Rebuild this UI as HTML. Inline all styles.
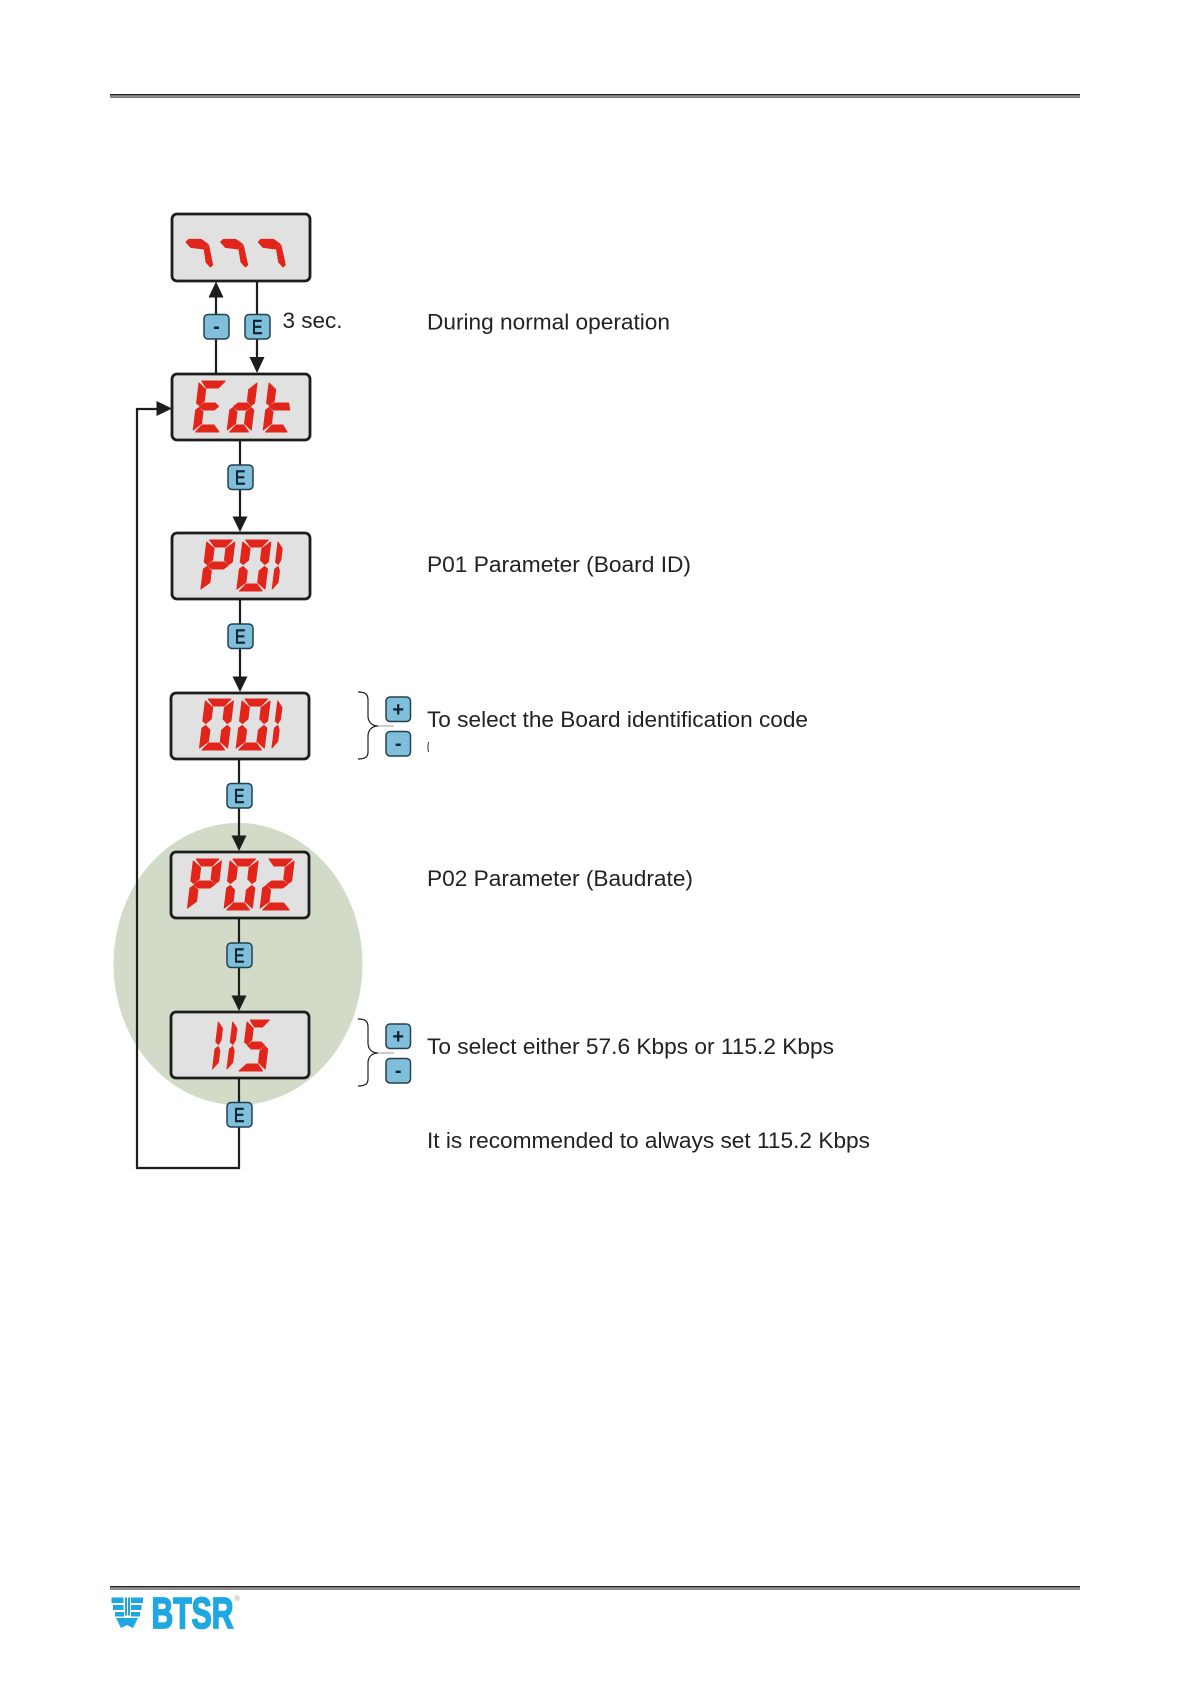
<!DOCTYPE html>
<html><head><meta charset="utf-8"><style>html,body{margin:0;padding:0;background:#fff}svg{display:block}text{font-family:"Liberation Sans",sans-serif}</style></head><body>
<svg xmlns="http://www.w3.org/2000/svg" width="1190" height="1684" viewBox="0 0 1190 1684">
<rect x="110" y="94" width="970" height="1.6" fill="#222"/><rect x="110" y="96.4" width="970" height="1.3" fill="#444"/>
<rect x="110" y="1586" width="970" height="1.6" fill="#222"/><rect x="110" y="1588.4" width="970" height="1.2" fill="#444"/>
<ellipse cx="238" cy="964" rx="124.5" ry="141" fill="#d1dbc8"/>
<g fill="none" stroke="#1d1d1b" stroke-width="2.2">
<path d="M216 373V297M257 281V360M240 440V520M240 599V680M239 759V840M239 918V1000"/>
<path d="M239 1078V1168H137V409H160"/>
</g>
<g fill="#1d1d1b">
<polygon points="216,281.5 208.5,297.5 223.5,297.5"/><polygon points="257,373 249.5,357 264.5,357"/><polygon points="172,408.5 156.5,401 156.5,416"/>
<polygon points="240,532 232.5,516.5 247.5,516.5"/><polygon points="240,692 232.5,676.5 247.5,676.5"/><polygon points="239,851 231.5,835.5 246.5,835.5"/><polygon points="239,1011 231.5,995.5 246.5,995.5"/>
</g>
<g fill="#e1e1e1" stroke="#1d1d1b" stroke-width="2.8">
<rect x="172" y="214" width="138" height="67" rx="5"/><rect x="172" y="374" width="138" height="66" rx="5"/><rect x="172" y="533" width="138" height="66" rx="5"/>
<rect x="171" y="693" width="138" height="66" rx="5"/><rect x="171" y="852" width="138" height="66" rx="5"/><rect x="171" y="1012" width="138" height="66" rx="5"/>
</g>
<g fill="#e1251b" stroke="#e1251b" stroke-width="1" stroke-linejoin="round">
<g transform="translate(100,190) scale(.3333)" stroke-width="3"><title>777</title>
<polygon points="258,156 266,148 303,148 324,163 311,177 272,172"/><polygon points="313,179 326,166 338,225 331,231 318,216"/>
<polygon points="362,156 370,148 407,148 428,163 415,177 376,172"/><polygon points="417,179 430,166 443,225 436,231 423,216"/>
<polygon points="475,156 483,148 520,148 541,163 528,177 489,172"/><polygon points="530,179 543,166 556,225 549,231 536,216"/></g>
<g><title>Edt</title>
<g transform="translate(193,432) skewX(-7) translate(0,-51)"><polygon points="2.5,0 26,0 20,7 8,7"/><polygon points="0,2 7.5,8.5 7.5,20 3,24.5 0,22"/><polygon points="3.5,25.5 7.5,22 18.5,22 22.5,25.5 18.5,29 7.5,29"/><polygon points="0,29 3,26.5 7.5,31 7.5,42.5 0,49"/><polygon points="2.5,51 8,44 20,44 26,51"/></g>
<g transform="translate(227,432) skewX(-7) translate(0,-51)"><polygon points="24,2 24,22 21,24.5 16.5,20 16.5,8.5"/><polygon points="3.5,25.5 7.5,22 16.5,22 20.5,25.5 16.5,29 7.5,29"/><polygon points="0,29 3,26.5 7.5,31 7.5,42.5 0,49"/><polygon points="24,29 24,49 16.5,42.5 16.5,31 21,26.5"/><polygon points="2.5,51 8,44 16,44 21.5,51"/></g>
<g transform="translate(263,432) skewX(-7) translate(0,-51)"><polygon points="0,2 7.5,8.5 7.5,20 3,24.5 0,22"/><polygon points="3.5,25.5 7.5,22 22,22 24,29 7.5,29"/><polygon points="0,29 3,26.5 7.5,31 7.5,42.5 0,49"/><polygon points="2.5,51 8,44 19,44 24,51"/></g></g>
<g><title>P01</title>
<g transform="translate(200.7,591) skewX(-7) scale(1.08,1) translate(0,-51)"><polygon points="2.5,0 23.5,0 18,7 8,7"/><polygon points="0,2 7.5,8.5 7.5,20 3,24.5 0,22"/><polygon points="26,2 26,22 23,24.5 18.5,20 18.5,8.5"/><polygon points="3.5,25.5 7.5,22 18.5,22 22.5,25.5 18.5,29 7.5,29"/><polygon points="0,29 3,26.5 7.5,31 7.5,42.5 0,49"/></g>
<g transform="translate(236.7,591) skewX(-7) scale(1.08,1) translate(0,-51)"><polygon points="2.5,0 23.5,0 18,7 8,7"/><polygon points="0,2 7.5,8.5 7.5,20 3,24.5 0,22"/><polygon points="26,2 26,22 23,24.5 18.5,20 18.5,8.5"/><polygon points="0,29 3,26.5 7.5,31 7.5,42.5 0,49"/><polygon points="26,29 26,49 18.5,42.5 18.5,31 23,26.5"/><polygon points="2.5,51 8,44 18,44 23.5,51"/></g>
<g transform="translate(272,591) skewX(-7) translate(0,-51)"><polygon points="0,2 5,8.5 5,20 3,24.5 0,22"/><polygon points="0,29 3,26.5 5,31 5,42.5 0,49"/></g></g>
<g><title>001</title>
<g transform="translate(199.3,750) skewX(-7) scale(1.08,1) translate(0,-51)"><polygon points="2.5,0 23.5,0 18,7 8,7"/><polygon points="0,2 7.5,8.5 7.5,20 3,24.5 0,22"/><polygon points="26,2 26,22 23,24.5 18.5,20 18.5,8.5"/><polygon points="0,29 3,26.5 7.5,31 7.5,42.5 0,49"/><polygon points="26,29 26,49 18.5,42.5 18.5,31 23,26.5"/><polygon points="2.5,51 8,44 18,44 23.5,51"/></g>
<g transform="translate(236,750) skewX(-7) scale(1.08,1) translate(0,-51)"><polygon points="2.5,0 23.5,0 18,7 8,7"/><polygon points="0,2 7.5,8.5 7.5,20 3,24.5 0,22"/><polygon points="26,2 26,22 23,24.5 18.5,20 18.5,8.5"/><polygon points="0,29 3,26.5 7.5,31 7.5,42.5 0,49"/><polygon points="26,29 26,49 18.5,42.5 18.5,31 23,26.5"/><polygon points="2.5,51 8,44 18,44 23.5,51"/></g>
<g transform="translate(271.7,750) skewX(-7) translate(0,-51)"><polygon points="0,2 5,8.5 5,20 3,24.5 0,22"/><polygon points="0,29 3,26.5 5,31 5,42.5 0,49"/></g></g>
<g><title>P02</title>
<g transform="translate(187.3,910) skewX(-7) scale(1.08,1) translate(0,-51)"><polygon points="2.5,0 23.5,0 18,7 8,7"/><polygon points="0,2 7.5,8.5 7.5,20 3,24.5 0,22"/><polygon points="26,2 26,22 23,24.5 18.5,20 18.5,8.5"/><polygon points="3.5,25.5 7.5,22 18.5,22 22.5,25.5 18.5,29 7.5,29"/><polygon points="0,29 3,26.5 7.5,31 7.5,42.5 0,49"/></g>
<g transform="translate(224,910) skewX(-7) scale(1.08,1) translate(0,-51)"><polygon points="2.5,0 23.5,0 18,7 8,7"/><polygon points="0,2 7.5,8.5 7.5,20 3,24.5 0,22"/><polygon points="26,2 26,22 23,24.5 18.5,20 18.5,8.5"/><polygon points="0,29 3,26.5 7.5,31 7.5,42.5 0,49"/><polygon points="26,29 26,49 18.5,42.5 18.5,31 23,26.5"/><polygon points="2.5,51 8,44 18,44 23.5,51"/></g>
<g transform="translate(260,910) skewX(-7) scale(1.08,1) translate(0,-51)"><polygon points="2.5,0 24,0 18,7 8,7"/><polygon points="26,2 26,22 23,24.5 18.5,20 18.5,8.5"/><polygon points="3.5,25.5 7.5,22 18.5,22 22.5,25.5 18.5,29 7.5,29"/><polygon points="0,29 3,26.5 7.5,31 7.5,42.5 0,49"/><polygon points="2.5,51 8,44 21,44 27,51"/></g></g>
<g><title>115</title>
<g transform="translate(212.3,1071) skewX(-7) translate(0,-51)"><polygon points="0,2 5,8.5 5,20 3,24.5 0,22"/><polygon points="0,29 3,26.5 5,31 5,42.5 0,49"/></g>
<g transform="translate(226.7,1071) skewX(-7) translate(0,-51)"><polygon points="0,2 5,8.5 5,20 3,24.5 0,22"/><polygon points="0,29 3,26.5 5,31 5,42.5 0,49"/></g>
<g transform="translate(239,1071) skewX(-7) translate(0,-51)"><polygon points="5,0 24,0 18,7 10,7"/><polygon points="2,2 9,8.5 9,20 5,24.5 2,22"/><polygon points="5.5,25.5 9.5,22 18.5,22 22.5,25.5 18.5,29 9.5,29"/><polygon points="26,29 26,49 18.5,42.5 18.5,31 23,26.5"/><polygon points="0,51 7,44 18,44 23.5,51"/></g></g>
</g>
<g fill="#7fbfdc" stroke="#24414e" stroke-width="1.5">
<rect x="204" y="314.5" width="25" height="24.5" rx="4"/><rect x="245" y="314.5" width="25" height="24.5" rx="4"/>
<rect x="228" y="465" width="25" height="24.5" rx="4"/><rect x="228" y="624" width="25" height="24.5" rx="4"/><rect x="227" y="783.5" width="25" height="24.5" rx="4"/>
<rect x="227" y="943" width="25" height="24.5" rx="4"/><rect x="227" y="1102.5" width="25" height="24.5" rx="4"/>
<rect x="386" y="697" width="24.5" height="24.5" rx="4"/><rect x="386" y="731.5" width="24.5" height="24.5" rx="4"/>
<rect x="386" y="1024" width="24.5" height="24.5" rx="4"/><rect x="386" y="1058.5" width="24.5" height="24.5" rx="4"/>
</g>
<g fill="#10222c" font-size="20" text-anchor="start" stroke="#10222c" stroke-width=".6">
<text x="252" y="334" textLength="10.5" lengthAdjust="spacingAndGlyphs">E</text>
<text x="235" y="484.5" textLength="10.5" lengthAdjust="spacingAndGlyphs">E</text>
<text x="235" y="643.5" textLength="10.5" lengthAdjust="spacingAndGlyphs">E</text>
<text x="234" y="803" textLength="10.5" lengthAdjust="spacingAndGlyphs">E</text>
<text x="234" y="962.5" textLength="10.5" lengthAdjust="spacingAndGlyphs">E</text>
<text x="234" y="1122" textLength="10.5" lengthAdjust="spacingAndGlyphs">E</text>
</g>
<g fill="#10222c" font-size="20" font-weight="bold" text-anchor="middle">
<text x="216.5" y="333">-</text><text x="398.2" y="750">-</text><text x="398.2" y="1077">-</text>
<text x="398.2" y="716">+</text><text x="398.2" y="1043">+</text>
</g>
<g fill="none" stroke="#1d1d1b" stroke-width="1.2">
<path d="M358 692C365 692 368 694 368 700V716C368 722 372 726 378 726C372 726 368 730 368 736V752C368 757 365 759 358 759"/>
<path d="M358 1019C365 1019 368 1021 368 1027V1043C368 1049 372 1053 378 1053C372 1053 368 1057 368 1063V1079C368 1084 365 1086 358 1086"/>
</g>
<path d="M378 726H394M378 1053H394" stroke="#999" stroke-width="1"/>
<path d="M428.5 742Q427.5 747 428.5 752" stroke="#333" stroke-width="1" fill="none"/>
<g fill="#222" font-size="22.5">
<text x="282.5" y="328" textLength="60" lengthAdjust="spacingAndGlyphs">3 sec.</text>
<text x="427" y="329.5" textLength="243" lengthAdjust="spacingAndGlyphs">During normal operation</text>
<text x="427" y="572" textLength="264" lengthAdjust="spacingAndGlyphs">P01 Parameter (Board ID)</text>
<text x="427" y="727" textLength="381" lengthAdjust="spacingAndGlyphs">To select the Board identification code</text>
<text x="427" y="886" textLength="266" lengthAdjust="spacingAndGlyphs">P02 Parameter (Baudrate)</text>
<text x="427" y="1054" textLength="407" lengthAdjust="spacingAndGlyphs">To select either 57.6 Kbps or 115.2 Kbps</text>
<text x="427" y="1148" textLength="443" lengthAdjust="spacingAndGlyphs">It is recommended to always set 115.2 Kbps</text>
</g>
<g fill="#1ea7e1">
<rect x="111.5" y="1597.5" width="12" height="5.5"/><rect x="131" y="1597.5" width="12" height="5.5"/>
<rect x="113" y="1605" width="10.5" height="5"/><rect x="131" y="1605" width="10.5" height="5"/>
<rect x="115" y="1612" width="9" height="4.5"/><rect x="131" y="1612" width="9" height="4.5"/>
<rect x="125" y="1597.5" width="2" height="18"/><rect x="128" y="1597.5" width="2" height="18"/>
<polygon points="116,1618 138,1618 133,1628 127,1625 121,1628"/>
<text x="151.5" y="1628" font-size="44" font-weight="bold" stroke="#1ea7e1" stroke-width="1.8" textLength="82" lengthAdjust="spacingAndGlyphs">BTSR</text>
</g>
<text x="234.5" y="1601" font-size="7" fill="#999">®</text>
</svg>
</body></html>
